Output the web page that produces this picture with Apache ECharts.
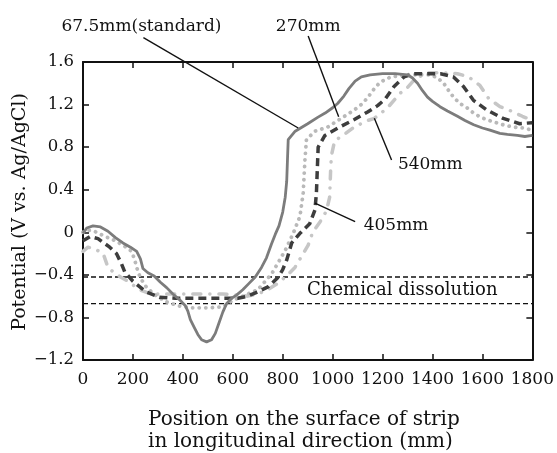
<!DOCTYPE html>
<html>
<head>
<meta charset="utf-8">
<script src="https://cdn.jsdelivr.net/npm/echarts@6/dist/echarts.min.js"></script>
<style>
html,body{margin:0;padding:0;background:#fff;}
#c{width:557px;height:453px;}
</style>
</head>
<body>
<div id="c"></div>
<script>
// ---- data (position mm, potential V) ----
const s675 = [[0,-0.01],[15,0.04],[40,0.06],[70,0.05],[100,0.01],[130,-0.05],[160,-0.10],[190,-0.14],[215,-0.18],[230,-0.25],[240,-0.34],[260,-0.38],[285,-0.41],[310,-0.47],[335,-0.52],[360,-0.58],[385,-0.63],[410,-0.69],[420,-0.74],[430,-0.82],[445,-0.89],[460,-0.96],[475,-1.01],[495,-1.03],[515,-1.01],[530,-0.95],[545,-0.85],[560,-0.75],[575,-0.67],[595,-0.62],[615,-0.59],[640,-0.54],[665,-0.48],[690,-0.42],[715,-0.33],[735,-0.24],[755,-0.11],[770,-0.02],[785,0.06],[800,0.19],[810,0.33],[816,0.48],[819,0.68],[822,0.87],[850,0.95],[900,1.02],[940,1.08],[970,1.12],[1000,1.17],[1020,1.21],[1045,1.28],[1065,1.35],[1090,1.42],[1115,1.46],[1150,1.48],[1200,1.49],[1250,1.49],[1300,1.48],[1320,1.45],[1340,1.40],[1360,1.33],[1380,1.27],[1400,1.23],[1430,1.18],[1460,1.14],[1500,1.09],[1530,1.05],[1565,1.01],[1600,0.98],[1630,0.96],[1670,0.93],[1700,0.92],[1740,0.91],[1770,0.90],[1800,0.91]];
const s270 = [[0,0.00],[20,0.02],[45,0.01],[80,-0.03],[120,-0.07],[160,-0.12],[190,-0.17],[205,-0.24],[215,-0.33],[230,-0.43],[255,-0.52],[290,-0.59],[330,-0.65],[380,-0.69],[430,-0.71],[500,-0.71],[560,-0.70],[600,-0.64],[640,-0.60],[700,-0.54],[756,-0.39],[810,-0.17],[842,-0.01],[869,0.15],[882,0.37],[889,0.68],[895,0.87],[929,0.95],[981,0.99],[1034,1.07],[1087,1.15],[1120,1.21],[1145,1.28],[1167,1.35],[1190,1.41],[1233,1.46],[1299,1.48],[1392,1.48],[1420,1.45],[1445,1.40],[1465,1.33],[1484,1.27],[1510,1.21],[1538,1.17],[1570,1.11],[1604,1.07],[1640,1.04],[1683,1.01],[1720,0.99],[1763,0.98],[1800,0.96]];
const s405 = [[0,-0.08],[28,-0.04],[60,-0.06],[107,-0.14],[134,-0.20],[153,-0.29],[167,-0.37],[200,-0.46],[253,-0.56],[306,-0.61],[370,-0.62],[450,-0.62],[550,-0.62],[620,-0.62],[660,-0.60],[700,-0.56],[743,-0.51],[783,-0.42],[800,-0.35],[816,-0.26],[836,-0.10],[869,-0.01],[908,0.08],[929,0.21],[935,0.37],[939,0.62],[942,0.80],[969,0.91],[1021,0.98],[1087,1.06],[1140,1.13],[1180,1.19],[1210,1.25],[1246,1.37],[1286,1.46],[1325,1.49],[1432,1.49],[1484,1.46],[1524,1.37],[1564,1.24],[1617,1.15],[1683,1.07],[1749,1.02],[1800,1.03]];
const s540 = [[0,-0.18],[20,-0.14],[50,-0.16],[81,-0.20],[100,-0.33],[120,-0.37],[150,-0.42],[180,-0.46],[226,-0.54],[260,-0.57],[300,-0.58],[400,-0.58],[500,-0.58],[560,-0.58],[620,-0.59],[660,-0.60],[700,-0.58],[740,-0.54],[780,-0.48],[820,-0.40],[849,-0.33],[882,-0.20],[902,-0.12],[920,0.00],[950,0.10],[975,0.20],[988,0.33],[992,0.59],[995,0.72],[1008,0.86],[1041,0.91],[1087,0.99],[1140,1.05],[1167,1.07],[1220,1.17],[1272,1.31],[1292,1.34],[1330,1.44],[1380,1.50],[1432,1.50],[1500,1.49],[1530,1.47],[1550,1.45],[1590,1.38],[1624,1.26],[1670,1.18],[1705,1.15],[1760,1.09],[1800,1.05]];
const chemLevels = [-0.42, -0.67];
const xTicks = [0, 1800, 200];
const yTicks = [-1.2, 1.6, 0.4];
// annotations: text, text anchor (data), leader from, leader to (data)
const annTexts = ['67.5mm(standard)', '270mm', '540mm', '405mm'];
const annPos = [[234,1.93],[902,1.93],[1391,0.632],[1254,0.059]];
const annFrom = [[242,1.83],[902,1.845],[1236,0.68],[1090,0.10]];
const annTo = [[862,0.98],[1024,1.086],[1167,1.071],[929,0.273]];
const chemText = 'Chemical dissolution';
const chemPos = [1279,-0.545];

const FONT = '"DejaVu Serif", "Liberation Serif", serif';
const TXT = '#111';
const chart = echarts.init(document.getElementById('c'), null, {renderer:'canvas'});

function yFmt(v){
  if (Math.abs(v) < 1e-9) return '0';
  return (v < 0 ? '\u2212' : '') + Math.abs(v).toFixed(1);
}
function xFmt(v){ return String(Math.round(v)); }
const axisLine = {show:true, onZero:false, lineStyle:{color:'#111', width:2}};
const axisTick = {show:true, inside:true, length:6, lineStyle:{color:'#111', width:1.5}};

const option = {
  animation:false,
  backgroundColor:'#fff',
  grid:{left:83, right:21, top:62, bottom:93},
  xAxis:[
    {type:'value', position:'bottom', min:xTicks[0], max:xTicks[1], interval:xTicks[2],
     axisLine, axisTick, splitLine:{show:false},
     axisLabel:{margin:11, fontSize:17, fontFamily:FONT, color:TXT, formatter:xFmt}},
    {type:'value', position:'top', min:xTicks[0], max:xTicks[1], interval:xTicks[2],
     axisLine, axisTick, splitLine:{show:false}, axisLabel:{show:false}}
  ],
  yAxis:[
    {type:'value', position:'left', min:yTicks[0], max:yTicks[1], interval:yTicks[2],
     axisLine, axisTick, splitLine:{show:false},
     axisLabel:{margin:9, fontSize:16.5, fontFamily:FONT, color:TXT, formatter:yFmt}},
    {type:'value', position:'right', min:yTicks[0], max:yTicks[1], interval:yTicks[2],
     axisLine, axisTick, splitLine:{show:false}, axisLabel:{show:false}}
  ],
  series:[
    {type:'line', data:[[xTicks[0],chemLevels[0]],[xTicks[1],chemLevels[0]]], symbol:'none', silent:true,
     lineStyle:{color:'#111', width:1.3, type:[5,3]}},
    {type:'line', data:[[xTicks[0],chemLevels[1]],[xTicks[1],chemLevels[1]]], symbol:'none', silent:true,
     lineStyle:{color:'#111', width:1.3, type:[5,3]}},
    {name:'540mm', type:'line', data:s540, symbol:'none',
     lineStyle:{color:'#c6c6c6', width:3.5, type:[8,9,0.1,9], cap:'round', join:'round'}},
    {name:'270mm', type:'line', data:s270, symbol:'none',
     lineStyle:{color:'#b9b9b9', width:3.8, type:[0.1,6.5], cap:'round', join:'round'}},
    {name:'405mm', type:'line', data:s405, symbol:'none',
     lineStyle:{color:'#3d3d3d', width:3.5, type:[8,5], join:'round'}},
    {name:'67.5mm', type:'line', data:s675, symbol:'none',
     lineStyle:{color:'#7c7c7c', width:2.8, join:'round'}}
  ]
};
chart.setOption(option);

function px(p){ return chart.convertToPixel({xAxisIndex:0, yAxisIndex:0}, p); }
const g = [];
annTexts.forEach((t,i)=>{
  const a = px(annFrom[i]), b = px(annTo[i]), c = px(annPos[i]);
  g.push({type:'line', shape:{x1:a[0], y1:a[1], x2:b[0], y2:b[1]}, style:{stroke:'#111', lineWidth:1.4}, z:100});
  g.push({type:'text', style:{text:t, x:c[0], y:c[1], align:'center', verticalAlign:'middle', fontSize:17, fontFamily:FONT, fill:TXT}, z:100});
});
const cp = px(chemPos);
g.push({type:'text', style:{text:chemText, x:cp[0], y:cp[1], align:'center', verticalAlign:'middle', fontSize:18, fontFamily:FONT, fill:TXT}, z:100});
g.push({type:'text', rotation:Math.PI/2, x:20, y:212, style:{text:'Potential (V vs. Ag/AgCl)', x:0, y:0, align:'center', verticalAlign:'middle', fontSize:19, fontFamily:FONT, fill:TXT}});
g.push({type:'text', style:{text:'Position on the surface of strip', x:148, y:420, align:'left', verticalAlign:'middle', fontSize:20, fontFamily:FONT, fill:TXT}});
g.push({type:'text', style:{text:'in longitudinal direction (mm)', x:148, y:442, align:'left', verticalAlign:'middle', fontSize:20, fontFamily:FONT, fill:TXT}});
chart.setOption({graphic:g});
</script>
</body>
</html>
